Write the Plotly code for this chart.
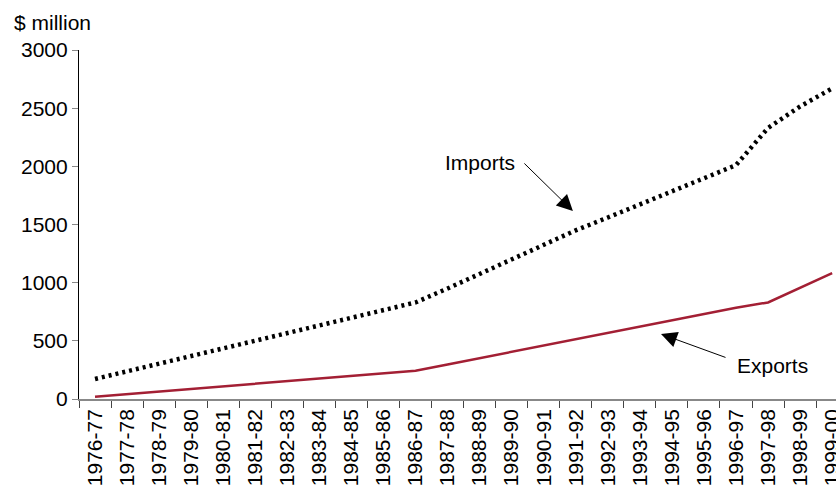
import plotly.graph_objects as go

years = ["1976-77", "1977-78", "1978-79", "1979-80", "1980-81", "1981-82",
         "1982-83", "1983-84", "1984-85", "1985-86", "1986-87", "1987-88",
         "1988-89", "1989-90", "1990-91", "1991-92", "1992-93", "1993-94",
         "1994-95", "1995-96", "1996-97", "1997-98", "1998-99", "1999-00"]

imports = [172, 238, 304, 370, 436, 502, 568, 634, 700, 766, 830, 950,
           1075, 1200, 1325, 1450, 1560, 1670, 1785, 1900, 2010, 2330,
           2515, 2670]

exports = [20, 42, 65, 87, 109, 132, 154, 176, 198, 221, 243, 297,
           351, 406, 460, 514, 568, 622, 677, 731, 785, 830, 957, 1082]

y_ticks = [0, 500, 1000, 1500, 2000, 2500, 3000]

FONT = "Liberation Sans, Arial, sans-serif"
FS = 21

fig = go.Figure()
fig.add_trace(go.Scatter(
    x=years, y=imports, mode="lines", name="Imports",
    line=dict(color="#000000", width=4.5, dash="3px,4px"),
))
fig.add_trace(go.Scatter(
    x=years, y=exports, mode="lines", name="Exports",
    line=dict(color="#a31f34", width=2.5),
))

fig.update_layout(
    width=836, height=493,
    margin=dict(l=79, r=0, t=50, b=94, autoexpand=False),
    paper_bgcolor="white", plot_bgcolor="white",
    showlegend=False,
    font=dict(family=FONT, size=FS, color="#000000"),
    xaxis=dict(
        type="category",
        automargin=False,
        range=[-0.5, 23.12],
        tickson="boundaries",
        ticks="outside", ticklen=7, tickcolor="#444444", tickwidth=1,
        tickangle=-90,
        showline=True, linecolor="#888888", linewidth=1.5,
        showgrid=False, zeroline=False,
        tickfont=dict(family=FONT, size=FS, color="#000000"),
    ),
    yaxis=dict(
        automargin=False,
        range=[0, 3000],
        tickvals=y_ticks,
        ticks="outside", ticklen=6, tickcolor="#888888", tickwidth=1,
        showline=True, linecolor="#000000", linewidth=1.2,
        showgrid=False, zeroline=False,
        tickfont=dict(family=FONT, size=FS, color="#000000"),
    ),
    annotations=[
        dict(text="$ million", xref="paper", yref="paper", x=(12 - 79) / 757, y=1.08,
             xanchor="left", yanchor="middle", showarrow=False,
             font=dict(size=FS)),
        dict(text="Imports", xref="x", yref="y", x=12.01, y=2029,
             xanchor="center", yanchor="middle", showarrow=False,
             font=dict(size=FS)),
        dict(text="", xref="x", yref="y", x=14.91, y=1616,
             ax=-50, ay=-49, showarrow=True, arrowhead=2, arrowsize=3.2,
             arrowwidth=1, arrowcolor="#000000"),
        dict(text="Exports", xref="x", yref="y", x=21.15, y=284,
             xanchor="center", yanchor="middle", showarrow=False,
             font=dict(size=FS)),
        dict(text="", xref="x", yref="y", x=17.66, y=559,
             ax=66, ay=24, showarrow=True, arrowhead=2, arrowsize=3.2,
             arrowwidth=1, arrowcolor="#000000"),
    ],
)

fig.write_html(
    "out.html",
    config={"displayModeBar": False},
    post_script="document.body.style.margin='0';document.body.style.overflow='hidden';",
)
